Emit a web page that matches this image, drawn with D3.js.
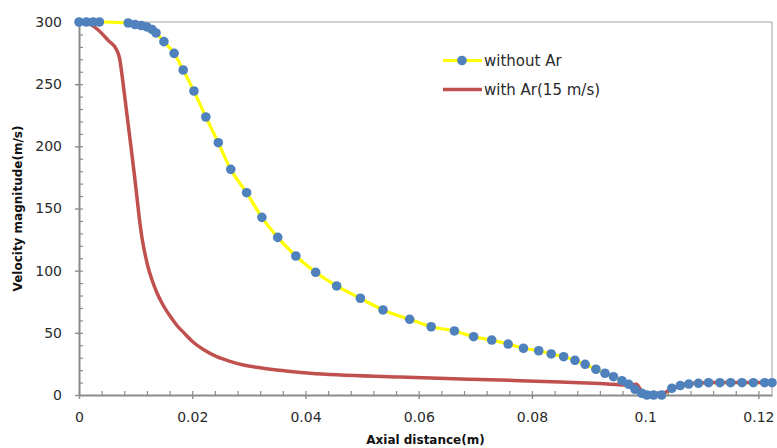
<!DOCTYPE html>
<html>
<head>
<meta charset="utf-8">
<script src="https://cdn.jsdelivr.net/npm/d3@7"></script>
<style>
  html, body { margin: 0; padding: 0; background: #fff; }
  svg { display: block; }
  text { font-family: "DejaVu Sans", Verdana, sans-serif; }
</style>
</head>
<body>
<svg id="chart" width="777" height="448"></svg>
<script>
// ---- data ----
const withoutArX = [0, 0.0013, 0.0025, 0.0036, 0.0087, 0.0099, 0.0110, 0.0120, 0.0129, 0.0136, 0.0150, 0.0168, 0.0184, 0.0203, 0.0224, 0.0246, 0.0268, 0.0296, 0.0323, 0.0351, 0.0383, 0.0418, 0.0455, 0.0497, 0.0537, 0.0584, 0.0622, 0.0663, 0.0697, 0.0729, 0.0758, 0.0785, 0.0812, 0.0834, 0.0856, 0.0876, 0.0894, 0.0913, 0.0929, 0.0944, 0.0959, 0.0971, 0.0982, 0.0994, 0.1003, 0.1015, 0.1029, 0.1047, 0.1062, 0.1077, 0.1094, 0.1112, 0.1132, 0.1151, 0.1171, 0.1191, 0.1211, 0.1224];
const withoutArY = [300, 300, 300, 300, 299.2, 298.0, 297.2, 296.0, 294.0, 291.2, 284.2, 274.8, 261.4, 244.5, 223.6, 202.9, 181.5, 162.7, 142.9, 126.8, 111.8, 98.7, 87.7, 77.8, 68.4, 60.9, 54.9, 51.5, 46.9, 44.2, 41.0, 37.6, 35.6, 33.0, 30.8, 27.9, 24.7, 20.7, 17.5, 14.7, 11.5, 8.6, 4.6, 1.4, 0, 0, 0, 5.4, 7.6, 8.8, 9.4, 9.9, 9.9, 9.9, 9.9, 9.9, 9.9, 9.9];

const withArX = [0, 0.0011, 0.0022, 0.0034, 0.0052, 0.00666, 0.00716, 0.00760, 0.00804, 0.00848, 0.00892, 0.00936, 0.00981, 0.01025, 0.01069, 0.01113, 0.01166, 0.01219, 0.01290, 0.01378, 0.01484, 0.01608, 0.01731, 0.01873, 0.02014, 0.02226, 0.02433, 0.02668, 0.02903, 0.03198, 0.03493, 0.03781, 0.04081, 0.0567, 0.0744, 0.0850, 0.0920, 0.0972, 0.0984, 0.0998, 0.1029, 0.1048, 0.1068, 0.1095, 0.1115, 0.1224];
const withArY = [300, 299.2, 297.6, 293.6, 285.0, 277.5, 271.0, 257.4, 241.3, 225.2, 209.1, 193.0, 176.0, 158.4, 140.8, 126.3, 113.4, 102.9, 92.5, 82.0, 72.4, 63.5, 55.9, 49.1, 42.6, 35.8, 30.8, 27.1, 24.1, 21.9, 20.1, 18.7, 17.5, 14.5, 12, 10.5, 9.2, 8.0, 8.6, 1.4, 1.4, 5.0, 8.4, 9.7, 10.0, 10.0];

const xTicks = [0, 0.02, 0.04, 0.06, 0.08, 0.1, 0.12];
const xTickLabels = ["0", "0.02", "0.04", "0.06", "0.08", "0.1", "0.12"];
const yTicks = [0, 50, 100, 150, 200, 250, 300];
const seriesNames = ["without Ar", "with Ar(15 m/s)"];

// ---- drawing ----
const svg = d3.select("#chart");
const mLeft = 79, mRight = 772, mTop = 22, mBottom = 395;
const x = d3.scaleLinear().domain([0, 0.1224]).range([mLeft, mRight]);
const y = d3.scaleLinear().domain([0, 300]).range([mBottom, mTop]);

const axisColor = "#8c8c8c";

// top and right border
svg.append("line").attr("x1", mLeft).attr("x2", mRight).attr("y1", mTop).attr("y2", mTop)
  .attr("stroke", "#a0a0a0").attr("stroke-width", 1);
svg.append("line").attr("x1", mRight).attr("x2", mRight).attr("y1", mTop).attr("y2", mBottom)
  .attr("stroke", "#a0a0a0").attr("stroke-width", 1);

// minor ticks (inward)
const xMinor = d3.range(0, 0.1224, 0.004);
const yMinor = d3.range(0, 301, 10);
svg.append("g").attr("transform", `translate(0,${mBottom})`)
  .call(d3.axisBottom(x).tickValues(xMinor).tickSize(-4).tickFormat(""))
  .call(g => g.select(".domain").remove())
  .call(g => g.selectAll("line").attr("stroke", axisColor).attr("stroke-width", 1.2));
svg.append("g").attr("transform", `translate(${mLeft},0)`)
  .call(d3.axisLeft(y).tickValues(yMinor).tickSize(-4).tickFormat(""))
  .call(g => g.select(".domain").remove())
  .call(g => g.selectAll("line").attr("stroke", axisColor).attr("stroke-width", 1.2));

// major axes
const xAxis = svg.append("g").attr("transform", `translate(0,${mBottom})`)
  .call(d3.axisBottom(x).tickValues(xTicks).tickSize(4).tickSizeOuter(0).tickPadding(13)
    .tickFormat((d, i) => xTickLabels[i]));
const yAxis = svg.append("g").attr("transform", `translate(${mLeft},0)`)
  .call(d3.axisLeft(y).tickValues(yTicks).tickSize(4).tickSizeOuter(0).tickPadding(13));
[xAxis, yAxis].forEach(g => {
  g.select(".domain").attr("stroke", axisColor).attr("stroke-width", 2);
  g.selectAll(".tick line").attr("stroke", axisColor).attr("stroke-width", 1.4);
  g.selectAll(".tick text").attr("fill", "#2a2a2a")
    .style("font-family", '"DejaVu Sans", Verdana, sans-serif').style("font-size", "14px");
});

// axis titles
svg.append("text").attr("x", (mLeft + mRight) / 2).attr("y", 444)
  .attr("text-anchor", "middle").attr("font-weight", "bold").attr("font-size", 12)
  .attr("fill", "#111").text("Axial distance(m)");
svg.append("text").attr("transform", `translate(22,${(mTop + mBottom) / 2}) rotate(-90)`)
  .attr("text-anchor", "middle").attr("font-weight", "bold").attr("font-size", 12)
  .attr("fill", "#111").text("Velocity magnitude(m/s)");

// series
const d1 = withoutArX.map((v, i) => [v, withoutArY[i]]);
const d2 = withArX.map((v, i) => [v, withArY[i]]);
const line = d3.line().x(d => x(d[0])).y(d => y(d[1])).curve(d3.curveMonotoneX);

svg.append("path").datum(d1).attr("d", line).attr("fill", "none")
  .attr("stroke", "#ffff00").attr("stroke-width", 3.2);
svg.append("path").datum(d2).attr("d", line).attr("fill", "none")
  .attr("stroke", "#c0504d").attr("stroke-width", 3.5).attr("stroke-linejoin", "round");
svg.append("g").selectAll("circle").data(d1).join("circle")
  .attr("cx", d => x(d[0])).attr("cy", d => y(d[1])).attr("r", 4.8)
  .attr("fill", "#4f81bd");

// legend
const lg = svg.append("g");
lg.append("line").attr("x1", 443).attr("x2", 482).attr("y1", 60.5).attr("y2", 60.5)
  .attr("stroke", "#ffff00").attr("stroke-width", 3.2);
lg.append("circle").attr("cx", 462).attr("cy", 60.5).attr("r", 4.8).attr("fill", "#4f81bd");
lg.append("text").attr("x", 484).attr("y", 66).attr("font-size", 15).attr("fill", "#2a2a2a")
  .text(seriesNames[0]);
lg.append("line").attr("x1", 443).attr("x2", 482).attr("y1", 89.5).attr("y2", 89.5)
  .attr("stroke", "#c0504d").attr("stroke-width", 3.5);
lg.append("text").attr("x", 484).attr("y", 95).attr("font-size", 15).attr("fill", "#2a2a2a")
  .text(seriesNames[1]);
</script>
</body>
</html>
